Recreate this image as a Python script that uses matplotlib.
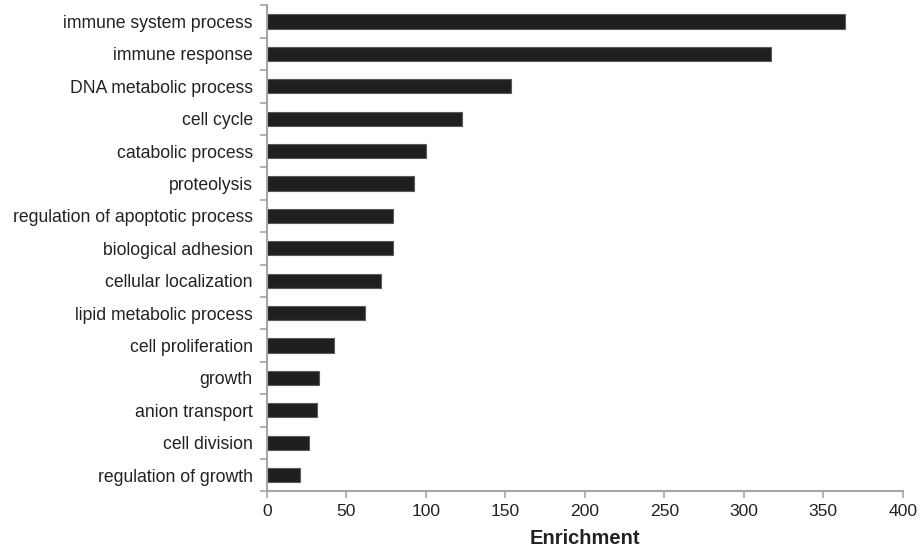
import numpy as np
import matplotlib.pyplot as plt

plt.rcParams['font.family'] = ['Liberation Sans', 'DejaVu Sans']

# GO biological process terms and enrichment values
terms = ['immune system process', 'immune response', 'DNA metabolic process',
         'cell cycle', 'catabolic process', 'proteolysis',
         'regulation of apoptotic process', 'biological adhesion',
         'cellular localization', 'lipid metabolic process',
         'cell proliferation', 'growth', 'anion transport', 'cell division',
         'regulation of growth']
enrichment = [363.7, 317.2, 153.6, 122.6, 100.4, 92.5, 79.6, 79.6, 71.9,
              61.6, 42.5, 33.1, 31.4, 26.4, 20.9]

axis_gray = '#a6a6a6'

fig = plt.figure(figsize=(9.21, 5.49), dpi=100)
ax = fig.add_axes([0.2896, 0.1051, 0.6905, 0.8852])

y = np.arange(len(terms))
ax.barh(y, enrichment, height=0.44, color='#1f1f21', edgecolor='#5a5a5a',
        linewidth=0.8)

ax.set_xlim(0, 400)
ax.set_ylim(len(terms) - 0.5, -0.5)
ax.set_xticks(np.arange(0, 401, 50))
ax.set_yticks(y)
ax.set_yticklabels(terms)
ax.set_yticks(np.arange(-0.5, len(terms), 1), minor=True)

for side in ['top', 'right']:
    ax.spines[side].set_visible(False)
for side in ['left', 'bottom']:
    ax.spines[side].set_color(axis_gray)
    ax.spines[side].set_linewidth(1.5)

ax.tick_params(axis='y', which='major', length=0, pad=10, labelsize=12.7,
               labelcolor='#222222')
ax.tick_params(axis='y', which='minor', length=5, width=1.2, color=axis_gray)
ax.tick_params(axis='x', length=5, width=1.2, color=axis_gray, labelsize=12.6,
               labelcolor='#222222', pad=4)

ax.set_xlabel('Enrichment', fontsize=14.5, fontweight='bold', color='#222222',
              labelpad=7)

fig.savefig('out.png', dpi=100)
